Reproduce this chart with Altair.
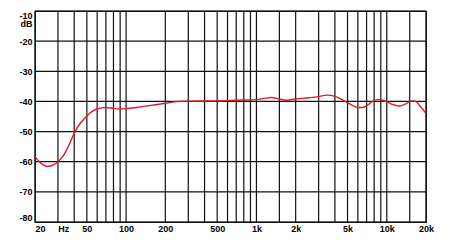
import altair as alt
import pandas as pd

# Frequency response curve (Hz, dB)
freq = [20, 22, 25, 28, 30, 33, 36, 40, 45, 50, 55, 60, 70, 80, 90, 100, 120, 150,
        200, 250, 300, 500, 700, 1000, 1150, 1300, 1500, 1700, 2000, 2500, 3000,
        3500, 4000, 4500, 5000, 5500, 6000, 6500, 7000, 7500, 8000, 8700, 9500,
        10000, 11000, 12500, 14000, 15500, 16500, 18000, 20000]
level = [-58.3, -60.3, -61.6, -61.0, -60.0, -58.0, -55.0, -50.5, -47.0, -44.8,
         -43.3, -42.5, -42.0, -42.3, -42.5, -42.4, -42.0, -41.4, -40.6, -40.0,
         -39.9, -39.8, -39.6, -39.4, -39.0, -38.7, -39.2, -39.6, -39.2, -38.8,
         -38.4, -37.9, -38.3, -39.3, -40.4, -41.4, -42.0, -42.0, -41.5, -40.5,
         -39.7, -39.4, -39.7, -40.1, -41.0, -41.5, -40.8, -39.8, -39.9, -41.5, -44.0]

# Grid lines
grid_freqs = [20, 30, 40, 50, 60, 70, 80, 90, 100, 200, 300, 400, 500, 600, 700,
              800, 900, 1000, 1500, 2000, 3000, 4000, 5000, 6000, 7000, 8000, 9000,
              10000, 15000, 20000]
grid_levels = [-10, -20, -30, -40, -50, -60, -70, -80]

# Axis labels
x_label_values = [20, 33, 50, 100, 200, 500, 1000, 2000, 5000, 10000, 20000]
x_label_texts = ["20", "Hz", "50", "100", "200", "500", "1k", "2k", "5k", "10k", "20k"]
y_label_values = [-10, -14.3, -20, -30, -40, -50, -60, -70, -80]
y_label_texts = ["-10", "dB", "-20", "-30", "-40", "-50", "-60", "-70", "-80"]


def label_expr(values, texts):
    expr = "''"
    for v, t in reversed(list(zip(values, texts))):
        expr = f"abs(datum.value - ({v})) < 0.5 ? '{t}' : ({expr})"
    return expr


curve = pd.DataFrame({"freq": freq, "db": level})
vgrid = pd.DataFrame({"freq": grid_freqs})
hgrid = pd.DataFrame({"db": grid_levels})

xscale = alt.Scale(type="log", domain=[20, 20000], nice=False)
yscale = alt.Scale(domain=[-80, -10], nice=False, zero=False)

font = "Liberation Sans"
xaxis = alt.Axis(values=x_label_values, labelExpr=label_expr(x_label_values, x_label_texts),
                 grid=False, ticks=False, domain=False, title=None, tickCount=200,
                 labelFont=font, labelFontWeight="bold", labelFontSize=9,
                 labelColor="#000", labelPadding=2, labelFlush=False,
                 labelOverlap=False, labelBound=False,
                 labelAlign={"condition": {"test": "datum.value <= 20", "value": "left"},
                             "value": "center"})
yaxis = alt.Axis(values=y_label_values, labelExpr=label_expr(y_label_values, y_label_texts),
                 grid=False, ticks=False, domain=False, title=None,
                 labelFont=font, labelFontWeight="bold", labelFontSize=9,
                 labelColor="#000", labelPadding=3, labelFlush=True,
                 labelOverlap=False, labelBound=False)

grid_color = "#111111"

v = alt.Chart(vgrid).mark_rule(color=grid_color, strokeWidth=1.2).encode(
    x=alt.X("freq:Q", scale=xscale, axis=xaxis))
h = alt.Chart(hgrid).mark_rule(color=grid_color, strokeWidth=1.2).encode(
    y=alt.Y("db:Q", scale=yscale, axis=yaxis))
line = alt.Chart(curve).mark_line(color="#e01b24", strokeWidth=1.4,
                                  interpolate="monotone").encode(
    x=alt.X("freq:Q", scale=xscale, axis=xaxis),
    y=alt.Y("db:Q", scale=yscale, axis=yaxis))

chart = alt.layer(v, h, line).properties(
    width=391, height=211,
    autosize=alt.AutoSizeParams(type="none"),
    padding={"left": 35, "top": 11, "right": 24, "bottom": 20},
    background="white",
).configure_view(stroke=grid_color, strokeWidth=1.2)

chart.save("out.html", embed_options={"renderer": "svg", "actions": False})
